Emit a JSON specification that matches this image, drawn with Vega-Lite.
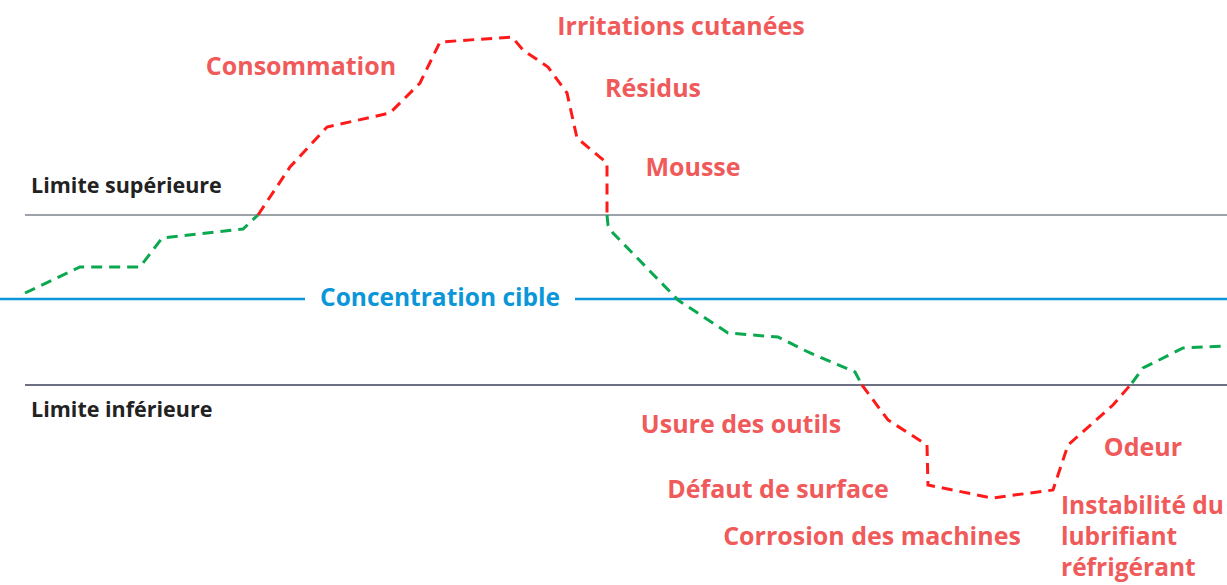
{
  "$schema": "https://vega.github.io/schema/vega-lite/v6.json",
  "width": 1227,
  "height": 585,
  "padding": 0,
  "autosize": {"type": "none"},
  "config": {"view": {"stroke": null}, "font": "Open Sans"},
  "resolve": {"scale": {"color": "independent"}},
  "datasets": {
    "curve": [
      {"seg": "g1", "zone": "ok", "t": 25, "c": 292},
      {"seg": "g1", "zone": "ok", "t": 80, "c": 318},
      {"seg": "g1", "zone": "ok", "t": 140, "c": 318},
      {"seg": "g1", "zone": "ok", "t": 162, "c": 347},
      {"seg": "g1", "zone": "ok", "t": 243, "c": 356},
      {"seg": "g1", "zone": "ok", "t": 258, "c": 370},
      {"seg": "r1", "zone": "out", "t": 258, "c": 370},
      {"seg": "r1", "zone": "out", "t": 290, "c": 418},
      {"seg": "r1", "zone": "out", "t": 327, "c": 458},
      {"seg": "r1", "zone": "out", "t": 390, "c": 472},
      {"seg": "r1", "zone": "out", "t": 420, "c": 502},
      {"seg": "r1", "zone": "out", "t": 440, "c": 543},
      {"seg": "r1", "zone": "out", "t": 512, "c": 548},
      {"seg": "r1", "zone": "out", "t": 523, "c": 535},
      {"seg": "r1", "zone": "out", "t": 548, "c": 518},
      {"seg": "r1", "zone": "out", "t": 567, "c": 492},
      {"seg": "r1", "zone": "out", "t": 577, "c": 447},
      {"seg": "r1", "zone": "out", "t": 607, "c": 422},
      {"seg": "r1", "zone": "out", "t": 607, "c": 370},
      {"seg": "g2", "zone": "ok", "t": 607, "c": 370},
      {"seg": "g2", "zone": "ok", "t": 608, "c": 360},
      {"seg": "g2", "zone": "ok", "t": 613, "c": 352},
      {"seg": "g2", "zone": "ok", "t": 678, "c": 285},
      {"seg": "g2", "zone": "ok", "t": 728, "c": 252},
      {"seg": "g2", "zone": "ok", "t": 778, "c": 248},
      {"seg": "g2", "zone": "ok", "t": 808, "c": 233},
      {"seg": "g2", "zone": "ok", "t": 855, "c": 213},
      {"seg": "g2", "zone": "ok", "t": 862, "c": 200},
      {"seg": "r2", "zone": "out", "t": 862, "c": 200},
      {"seg": "r2", "zone": "out", "t": 888, "c": 165},
      {"seg": "r2", "zone": "out", "t": 927, "c": 140},
      {"seg": "r2", "zone": "out", "t": 928, "c": 100},
      {"seg": "r2", "zone": "out", "t": 992, "c": 87},
      {"seg": "r2", "zone": "out", "t": 1053, "c": 95},
      {"seg": "r2", "zone": "out", "t": 1068, "c": 140},
      {"seg": "r2", "zone": "out", "t": 1113, "c": 180},
      {"seg": "r2", "zone": "out", "t": 1132, "c": 202},
      {"seg": "g3", "zone": "ok", "t": 1132, "c": 202},
      {"seg": "g3", "zone": "ok", "t": 1143, "c": 217},
      {"seg": "g3", "zone": "ok", "t": 1183, "c": 237},
      {"seg": "g3", "zone": "ok", "t": 1224, "c": 239}
    ],
    "limits": [
      {"name": "sup", "t1": 25, "t2": 1227, "c": 370},
      {"name": "inf", "t1": 25, "t2": 1227, "c": 200}
    ],
    "target": [
      {"t1": 0, "t2": 305, "c": 286},
      {"t1": 575, "t2": 1227, "c": 286}
    ],
    "darkLabels": [
      {"t": 31, "c": 398, "label": "Limite supérieure"},
      {"t": 31, "c": 174, "label": "Limite inférieure"}
    ],
    "targetLabel": [
      {"t": 440, "c": 286, "label": "Concentration cible"}
    ],
    "redLabels": [
      {"t": 301, "c": 518, "label": "Consommation"},
      {"t": 681, "c": 558, "label": "Irritations cutanées"},
      {"t": 653, "c": 496, "label": "Résidus"},
      {"t": 693, "c": 417, "label": "Mousse"},
      {"t": 741, "c": 160, "label": "Usure des outils"},
      {"t": 778, "c": 95, "label": "Défaut de surface"},
      {"t": 872, "c": 48, "label": "Corrosion des machines"},
      {"t": 1143, "c": 137, "label": "Odeur"}
    ],
    "redLeftLabels": [
      {"t": 1061, "c": 78, "label": "Instabilité du"},
      {"t": 1061, "c": 47, "label": "lubrifiant"},
      {"t": 1061, "c": 16, "label": "réfrigérant"}
    ]
  },
  "layer": [
    {
      "data": {"name": "limits"},
      "mark": {"type": "rule", "strokeWidth": 1.3},
      "encoding": {
        "x": {"field": "t1", "type": "quantitative", "scale": {"domain": [0, 1227], "nice": false, "zero": false}, "axis": null},
        "x2": {"field": "t2"},
        "y": {"field": "c", "type": "quantitative", "scale": {"domain": [0, 585], "nice": false, "zero": false}, "axis": null},
        "color": {"field": "name", "type": "nominal", "scale": {"domain": ["sup", "inf"], "range": ["#7d838c", "#3c4156"]}, "legend": null}
      }
    },
    {
      "data": {"name": "target"},
      "mark": {"type": "rule", "strokeWidth": 2.5, "color": "#0a96d8"},
      "encoding": {
        "x": {"field": "t1", "type": "quantitative"},
        "x2": {"field": "t2"},
        "y": {"field": "c", "type": "quantitative"}
      }
    },
    {
      "data": {"name": "curve"},
      "mark": {"type": "line", "strokeWidth": 3, "strokeDash": [11, 7], "interpolate": "linear"},
      "encoding": {
        "x": {"field": "t", "type": "quantitative"},
        "y": {"field": "c", "type": "quantitative"},
        "detail": {"field": "seg", "type": "nominal"},
        "order": {"field": "t", "type": "quantitative"},
        "color": {"field": "zone", "type": "nominal", "scale": {"domain": ["ok", "out"], "range": ["#0aa84f", "#ff1a1a"]}, "legend": null}
      }
    },
    {
      "data": {"name": "darkLabels"},
      "mark": {"type": "text", "align": "left", "baseline": "middle", "fontSize": 21.5, "fontWeight": "bold", "color": "#222222"},
      "encoding": {
        "x": {"field": "t", "type": "quantitative"},
        "y": {"field": "c", "type": "quantitative"},
        "text": {"field": "label"}
      }
    },
    {
      "data": {"name": "targetLabel"},
      "mark": {"type": "text", "align": "center", "baseline": "middle", "fontSize": 24.5, "fontWeight": "bold", "color": "#0a96d8"},
      "encoding": {
        "x": {"field": "t", "type": "quantitative"},
        "y": {"field": "c", "type": "quantitative"},
        "text": {"field": "label"}
      }
    },
    {
      "data": {"name": "redLabels"},
      "mark": {"type": "text", "align": "center", "baseline": "middle", "fontSize": 25, "fontWeight": "bold", "color": "#f05a5a"},
      "encoding": {
        "x": {"field": "t", "type": "quantitative"},
        "y": {"field": "c", "type": "quantitative"},
        "text": {"field": "label"}
      }
    },
    {
      "data": {"name": "redLeftLabels"},
      "mark": {"type": "text", "align": "left", "baseline": "middle", "fontSize": 24.5, "fontWeight": "bold", "color": "#f05a5a"},
      "encoding": {
        "x": {"field": "t", "type": "quantitative"},
        "y": {"field": "c", "type": "quantitative"},
        "text": {"field": "label"}
      }
    }
  ]
}
